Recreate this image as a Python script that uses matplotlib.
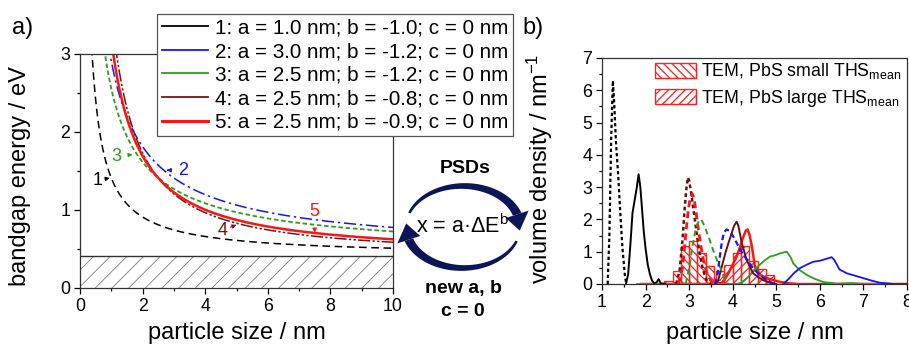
import numpy as np
import matplotlib
matplotlib.use('Agg')
import matplotlib.pyplot as plt
from matplotlib.lines import Line2D
from matplotlib.patches import Polygon, Patch

plt.rcParams['font.family'] = ['Liberation Sans', 'DejaVu Sans']
plt.rcParams['mathtext.fontset'] = 'custom'
plt.rcParams['mathtext.rm'] = 'Liberation Sans'
plt.rcParams['mathtext.it'] = 'Liberation Sans:italic'
plt.rcParams['mathtext.bf'] = 'Liberation Sans:bold'

# ---------------- data: panel a (model parameters) ----------------
Eg_bulk = 0.41
model_a = [1.0, 3.0, 2.5, 2.5, 2.5]
model_b = [-1.0, -1.2, -1.2, -0.8, -0.9]
model_c = [0.0, 0.0, 0.0, 0.0, 0.0]
model_labels = ["1: a = 1.0 nm; b = -1.0; c = 0 nm",
                "2: a = 3.0 nm; b = -1.2; c = 0 nm",
                "3: a = 2.5 nm; b = -1.2; c = 0 nm",
                "4: a = 2.5 nm; b = -0.8; c = 0 nm",
                "5: a = 2.5 nm; b = -0.9; c = 0 nm"]
model_colors = ['#000000', '#1414ff', '#2e9e1e', '#7a1414', '#ff1414']
model_dashes = [(5, 3), (8, 2.5, 1.5, 2.5), (2.5, 1.5), (8, 1.5, 1.5, 1.5, 1.5, 1.5), None]
model_lw = [1.1, 1.1, 1.3, 1.1, 1.8]

# annotation: (label, text x, text y, arrow x, arrow y)
ann_num = ["1", "2", "3", "4", "5"]
ann_tx = [0.55, 3.30, 1.17, 4.56, 7.48]
ann_ty = [1.38, 1.51, 1.69, 0.74, 0.98]
ann_px = [0.95, 2.77, 1.68, 5.00, 7.50]
ann_py = [1.41, 1.51, 1.71, 0.81, 0.71]

# ---------------- data: panel b (PSDs) ----------------
bk_dot_x = [1.13, 1.17, 1.21, 1.25, 1.28, 1.32, 1.37, 1.42, 1.47, 1.53, 1.56]
bk_dot_y = [0, 1.5, 4.5, 6.3, 5.6, 4.4, 3.4, 2.2, 1.1, 0.2, 0]
bk_sol_x = [1.55, 1.6, 1.65, 1.7, 1.75, 1.8, 1.84, 1.88, 1.92, 1.96, 2.0, 2.05, 2.1, 2.15, 2.2, 2.25, 2.3, 2.35, 2.45]
bk_sol_y = [0, 0.3, 1.2, 2.2, 2.6, 3.0, 3.4, 3.0, 2.3, 1.6, 1.1, 0.6, 0.3, 0.1, 0.02, 0.05, 0.15, 0.02, 0]
mr_dot_x = [2.7, 2.78, 2.85, 2.9, 2.94, 2.97, 3.0, 3.05, 3.1, 3.15, 3.2, 3.25, 3.3, 3.35, 3.4, 3.5]
mr_dot_y = [0, 0.4, 1.4, 2.4, 3.0, 3.3, 3.2, 2.8, 2.3, 1.8, 1.3, 0.9, 0.55, 0.3, 0.12, 0]
rd_dash_x = [2.75, 2.85, 2.92, 2.98, 3.03, 3.07, 3.12, 3.17, 3.22, 3.28, 3.35, 3.42, 3.5, 3.6]
rd_dash_y = [0, 0.5, 1.5, 2.3, 2.7, 2.8, 2.6, 2.1, 1.6, 1.1, 0.6, 0.3, 0.1, 0]
gr_dash_x = [2.92, 3.0, 3.08, 3.15, 3.22, 3.28, 3.35, 3.45, 3.55, 3.65, 3.75, 3.82, 3.9]
gr_dash_y = [0, 0.5, 1.2, 1.7, 1.95, 2.0, 1.8, 1.45, 1.05, 0.7, 0.4, 0.12, 0]
bl_dash_x = [3.6, 3.65, 3.7, 3.75, 3.8, 3.86, 3.92, 4.0, 4.1, 4.2, 4.3, 4.44, 4.6, 4.78, 4.95]
bl_dash_y = [0, 0.3, 0.8, 1.3, 1.6, 1.69, 1.65, 1.5, 1.25, 1.0, 0.8, 0.54, 0.3, 0.12, 0]
mr_sol_x = [3.6, 3.67, 3.75, 3.83, 3.9, 3.97, 4.03, 4.09, 4.13, 4.21, 4.32, 4.47, 4.6, 4.7, 4.85, 5.0]
mr_sol_y = [0, 0.12, 0.54, 0.95, 1.26, 1.55, 1.8, 1.93, 1.8, 1.26, 0.74, 0.33, 0.2, 0.12, 0.04, 0]
rd_sol_x = [1.9, 3.5, 3.75, 3.82, 3.9, 3.98, 4.05, 4.12, 4.17, 4.24, 4.3, 4.34, 4.38, 4.44, 4.51, 4.63, 4.78, 4.93, 5.1, 5.3, 5.5, 8.0]
rd_sol_y = [0, 0, 0.03, 0.15, 0.33, 0.55, 0.74, 0.95, 1.16, 1.45, 1.65, 1.69, 1.55, 1.16, 0.54, 0.28, 0.18, 0.12, 0.06, 0.02, 0, 0]
gr_sol_x = [1.8, 4.1, 4.2, 4.3, 4.4, 4.5, 4.63, 4.75, 4.86, 4.95, 5.09, 5.24, 5.32, 5.39, 5.47, 5.54, 5.7, 5.85, 6.08, 6.4, 6.7, 6.85, 7.0, 8.0]
gr_sol_y = [0, 0, 0.05, 0.15, 0.28, 0.45, 0.61, 0.75, 0.85, 0.88, 0.95, 1.0, 0.85, 0.64, 0.52, 0.43, 0.28, 0.18, 0.06, 0.01, 0.03, 0.02, 0, 0]
bl_sol_x = [5.16, 5.3, 5.4, 5.54, 5.7, 5.85, 6.0, 6.15, 6.27, 6.33, 6.45, 6.62, 6.8, 7.0, 7.2, 7.38, 7.7, 8.0]
bl_sol_y = [0, 0.18, 0.33, 0.49, 0.6, 0.69, 0.72, 0.78, 0.83, 0.75, 0.45, 0.33, 0.26, 0.18, 0.1, 0.04, 0.0, 0.0]

hist_small_left = [2.43, 2.62, 2.81, 3.00, 3.19, 3.38]
hist_small_h = [0.10, 0.41, 1.19, 1.33, 0.97, 0.57]
hist_large_left = [3.62, 3.81, 4.00, 4.19, 4.38, 4.57, 4.76]
hist_large_h = [0.40, 0.59, 0.96, 1.18, 0.72, 0.46, 0.27]
hist_width = 0.19

# ---------------- figure ----------------
W, H = 909, 347
fig = plt.figure(figsize=(W / 100, H / 100), dpi=100)

def px_axes(l, t, r, b):
    return fig.add_axes([l / W, 1 - b / H, (r - l) / W, (b - t) / H])

axA = px_axes(80, 54, 393, 288)
axB = px_axes(602, 58, 907, 284)

for ax in (axA, axB):
    ax.tick_params(which='both', direction='out', top=False, right=False, labelsize=12.8, pad=3, width=0.9)
    ax.tick_params(which='major', length=4)
    ax.tick_params(which='minor', length=2.5)
    for s in ax.spines.values():
        s.set_color('#333333')
        s.set_linewidth(0.9)

# panel a
plt.rcParams['hatch.linewidth'] = 0.5
plt.rcParams['hatch.color'] = '#666666'
axA.fill_between([0, 10], 0, Eg_bulk, facecolor='white', edgecolor='#666666', hatch='//', linewidth=0)
axA.axhline(Eg_bulk, color='#333333', lw=1.0)
size_grid = np.linspace(0.15, 10, 600)
for i in range(5):
    E = Eg_bulk + ((size_grid - model_c[i]) / model_a[i]) ** (1.0 / model_b[i])
    ln, = axA.plot(size_grid, E, color=model_colors[i], lw=model_lw[i])
    if model_dashes[i] is not None:
        ln.set_dashes(model_dashes[i])
for i in range(5):
    axA.annotate(ann_num[i], xy=(ann_px[i], ann_py[i]), xytext=(ann_tx[i], ann_ty[i]),
                 color=model_colors[i], fontsize=13, ha='center', va='center',
                 arrowprops=dict(arrowstyle='-|>', color=model_colors[i], lw=0.8,
                                 mutation_scale=6, shrinkA=5, shrinkB=0))
axA.set_xlim(0, 10)
axA.set_ylim(0, 3)
axA.set_xticks([0, 2, 4, 6, 8, 10])
axA.set_xticks(np.arange(1, 10, 2), minor=True)
axA.set_yticks([0, 1, 2, 3])
axA.set_yticks([0.5, 1.5, 2.5], minor=True)
axA.set_xlabel('particle size / nm', fontsize=17)
axA.set_ylabel('bandgap energy / eV', fontsize=17)
axA.xaxis.set_label_coords(0.50, -0.145)
axA.yaxis.set_label_coords(-0.155, 0.48)

handles = [Line2D([], [], color=model_colors[i], lw=(2.2 if i == 4 else 1.3)) for i in range(5)]
leg = fig.legend(handles, model_labels, loc='upper left', bbox_to_anchor=(157 / W, 1 - 14 / H),
                 bbox_transform=fig.transFigure, fontsize=14.9, frameon=True, fancybox=False,
                 edgecolor='#555555', framealpha=1, borderpad=0.22, labelspacing=0.22,
                 handlelength=2.25, handletextpad=0.35, borderaxespad=0)
leg.get_frame().set_linewidth(0.9)

# panel b
plt.rcParams['hatch.linewidth'] = 0.9
axB.bar(hist_small_left, hist_small_h, width=hist_width, align='edge', facecolor='none',
        edgecolor='#ff2020', hatch='\\\\\\\\', linewidth=1.0, zorder=2)
axB.bar(hist_large_left, hist_large_h, width=hist_width, align='edge', facecolor='none',
        edgecolor='#ff2020', hatch='////', linewidth=1.0, zorder=2)

axB.plot(rd_sol_x, rd_sol_y, color='#ff1414', lw=1.8, zorder=3)
axB.plot(gr_sol_x, gr_sol_y, color='#2e9e1e', lw=1.3, zorder=3)
axB.plot(bl_sol_x, bl_sol_y, color='#1414ff', lw=1.3, zorder=3)
axB.plot(bk_sol_x, bk_sol_y, color='black', lw=1.4, zorder=3)
axB.plot(mr_sol_x, mr_sol_y, color='#6a1010', lw=1.4, zorder=3)
axB.plot(bk_dot_x, bk_dot_y, color='black', lw=1.6, dashes=(1.5, 1.2), zorder=3)
axB.plot(mr_dot_x, mr_dot_y, color='#6a1010', lw=1.8, dashes=(1.5, 1.2), zorder=3)
axB.plot(rd_dash_x, rd_dash_y, color='#ff1414', lw=2.0, dashes=(2.5, 1.5), zorder=3)
axB.plot(gr_dash_x, gr_dash_y, color='#2e9e1e', lw=1.4, dashes=(3, 2), zorder=3)
axB.plot(bl_dash_x, bl_dash_y, color='#1414ff', lw=1.6, dashes=(2.5, 1.5), zorder=3)

axB.set_xlim(1, 8)
axB.set_ylim(0, 7)
axB.set_xticks(range(1, 9))
axB.set_xticks(np.arange(1.5, 8, 1), minor=True)
axB.set_yticks(range(0, 8))
axB.set_yticks(np.arange(0.5, 7, 1), minor=True)
axB.set_xlabel('particle size / nm', fontsize=17)
axB.set_ylabel('volume density / nm$^{-1}$', fontsize=17)
axB.xaxis.set_label_coords(0.50, -0.17)
axB.yaxis.set_label_coords(-0.155, 0.51)

bh = [Patch(facecolor='white', edgecolor='#ff2020', hatch='\\\\\\\\', linewidth=1.0),
      Patch(facecolor='white', edgecolor='#ff2020', hatch='////', linewidth=1.0)]
axB.legend(bh, ['TEM, PbS small THS$_{\\mathrm{mean}}$', 'TEM, PbS large THS$_{\\mathrm{mean}}$'],
           loc='upper left', bbox_to_anchor=(0.175, 0.985), frameon=False, fontsize=12.8,
           handlelength=2.3, handleheight=0.9, handletextpad=0.25, labelspacing=0.35,
           borderpad=0, borderaxespad=0)

# panel letters
fig.text(23 / W, 1 - 28 / H, 'a)', fontsize=17, ha='center', va='center')
fig.text(533 / W, 1 - 28 / H, 'b)', fontsize=17, ha='center', va='center')

# middle schematic
ov = fig.add_axes([0, 0, 1, 1], zorder=5)
ov.set_xlim(0, W)
ov.set_ylim(H, 0)
ov.axis('off')
ov.patch.set_alpha(0)
navy = '#0c1656'
cx, cy, rx, ry = 463, 227, 57, 41

def ell(theta_deg, r_off=0.0):
    t = np.radians(theta_deg)
    return cx + (rx + r_off) * np.cos(t), cy - (ry + r_off) * np.sin(t)

def curved_arrow(t0, t1, t_tip, w0=2.5, w1=9.0, hw=12.0):
    th = np.linspace(t0, t1, 80)
    w = np.linspace(w0, w1, 80)
    ox, oy = ell(th, w / 2)
    ix, iy = ell(th, -w / 2)
    ov.add_patch(Polygon(np.column_stack([np.r_[ox, ix[::-1]], np.r_[oy, iy[::-1]]]),
                         closed=True, facecolor=navy, edgecolor='none'))
    bx1, by1 = ell(t1, hw)
    bx2, by2 = ell(t1, -hw)
    tx, ty = ell(t_tip)
    ov.add_patch(Polygon([[bx1, by1], [tx, ty], [bx2, by2]], closed=True,
                         facecolor=navy, edgecolor='none'))

curved_arrow(160, 18, -5)
curved_arrow(-20, -162, -185)

ov.text(465, 168, 'PSDs', fontsize=14, fontweight='bold', ha='center', va='center')
ov.text(463, 226, 'x = a·ΔE$^{\\mathrm{b}}$', fontsize=15.5, ha='center', va='center')
ov.text(463, 288, 'new a, b', fontsize=14, fontweight='bold', ha='center', va='center')
ov.text(463, 312, 'c = 0', fontsize=14, fontweight='bold', ha='center', va='center')

fig.savefig('out.png', dpi=100)
